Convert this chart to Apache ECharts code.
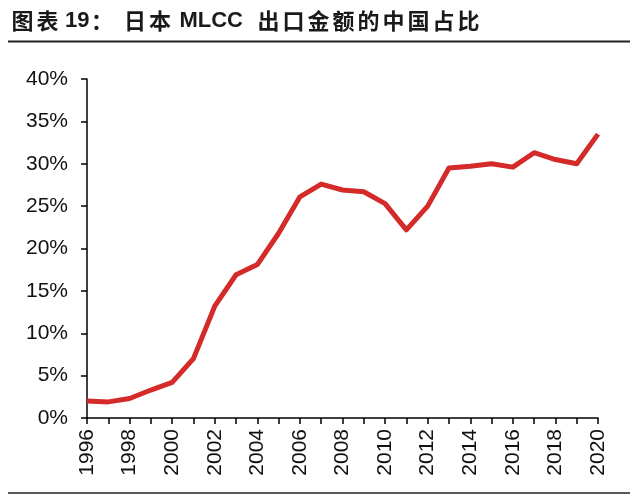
<!DOCTYPE html>
<html lang="zh">
<head>
    <meta charset="UTF-8">
    <title>日本MLCC出口金额的中国占比</title>
    <script src="https://cdn.jsdelivr.net/npm/echarts@6/dist/echarts.min.js"></script>
    <style>
        body { margin: 0; padding: 0; background: #ffffff; }
        #chart { width: 640px; height: 495px; }
    </style>
</head>
<body>
<div id="chart"></div>
<script>
    // 年份
    var years = ['1996', '1997', '1998', '1999', '2000', '2001', '2002', '2003', '2004', '2005',
        '2006', '2007', '2008', '2009', '2010', '2011', '2012', '2013', '2014', '2015',
        '2016', '2017', '2018', '2019', '2020'];
    // 中国占比（%）
    var chinaShare = [2.0, 1.9, 2.3, 3.3, 4.2, 7.0, 13.2, 16.9, 18.1, 21.8,
        26.1, 27.6, 26.9, 26.7, 25.3, 22.2, 25.0, 29.5, 29.7, 30.0,
        29.6, 31.3, 30.5, 30.0, 33.5];

    var chart = echarts.init(document.getElementById('chart'));
    var baseFont = '"Liberation Sans", Arial, "Noto Sans CJK SC", sans-serif';

    // 标题里的汉字字距较宽，用 rich 逐字排
    function cjk(s) {
        return s.split('').map(function (ch) { return '{c|' + ch + '}'; }).join('');
    }
    var titleText = cjk('图表') + '{s5| }{t|19}' + cjk('：') + '{s8| }' + cjk('日本') +
        '{s7| }{t|MLCC}{s13| }' + cjk('出口金额的中国占比');

    var option = {
        animation: false,
        backgroundColor: '#ffffff',
        title: {
            text: titleText,
            left: 10,
            top: 10,
            padding: 0,
            textStyle: {
                fontFamily: baseFont,
                fontSize: 22,
                fontWeight: 'bold',
                color: '#1a1a1a',
                rich: {
                    c: { width: 25, align: 'center', fontSize: 22, fontWeight: 'bold', fontFamily: '"Noto Sans CJK SC"', color: '#1a1a1a' },
                    t: { fontSize: 22, fontWeight: 'bold', fontFamily: baseFont, color: '#1a1a1a' },
                    s5: { width: 5 },
                    s7: { width: 7 },
                    s8: { width: 8 },
                    s13: { width: 13 }
                }
            }
        },
        graphic: [
            { type: 'line', shape: { x1: 8, y1: 41.5, x2: 630, y2: 41.5 }, style: { stroke: '#222', lineWidth: 2 } },
            { type: 'line', shape: { x1: 8, y1: 493, x2: 630, y2: 493 }, style: { stroke: '#222', lineWidth: 1.5 } }
        ],
        grid: { left: 87, right: 42, top: 79, bottom: 77 },
        xAxis: {
            type: 'category',
            data: years,
            boundaryGap: false,
            axisLine: { lineStyle: { color: '#000', width: 1.5 } },
            axisTick: { show: true, interval: 0, length: 6, lineStyle: { color: '#000', width: 1.5 } },
            axisLabel: {
                interval: 1,
                rotate: 90,
                margin: 11,
                fontFamily: baseFont,
                fontSize: 21,
                color: '#111'
            },
            splitLine: { show: false }
        },
        yAxis: {
            type: 'value',
            min: 0,
            max: 40,
            interval: 5,
            axisLine: { show: true, lineStyle: { color: '#000', width: 1.5 } },
            axisTick: { show: true, length: 6, lineStyle: { color: '#000', width: 1.5 } },
            axisLabel: {
                formatter: '{value}%',
                margin: 19,
                fontFamily: baseFont,
                fontSize: 21,
                color: '#111'
            },
            splitLine: { show: false }
        },
        series: [
            {
                name: '中国占比',
                type: 'line',
                data: chinaShare,
                showSymbol: false,
                symbol: 'none',
                lineStyle: { color: '#d42a2a', width: 5, join: 'round' }
            }
        ]
    };

    chart.setOption(option);
</script>
</body>
</html>
